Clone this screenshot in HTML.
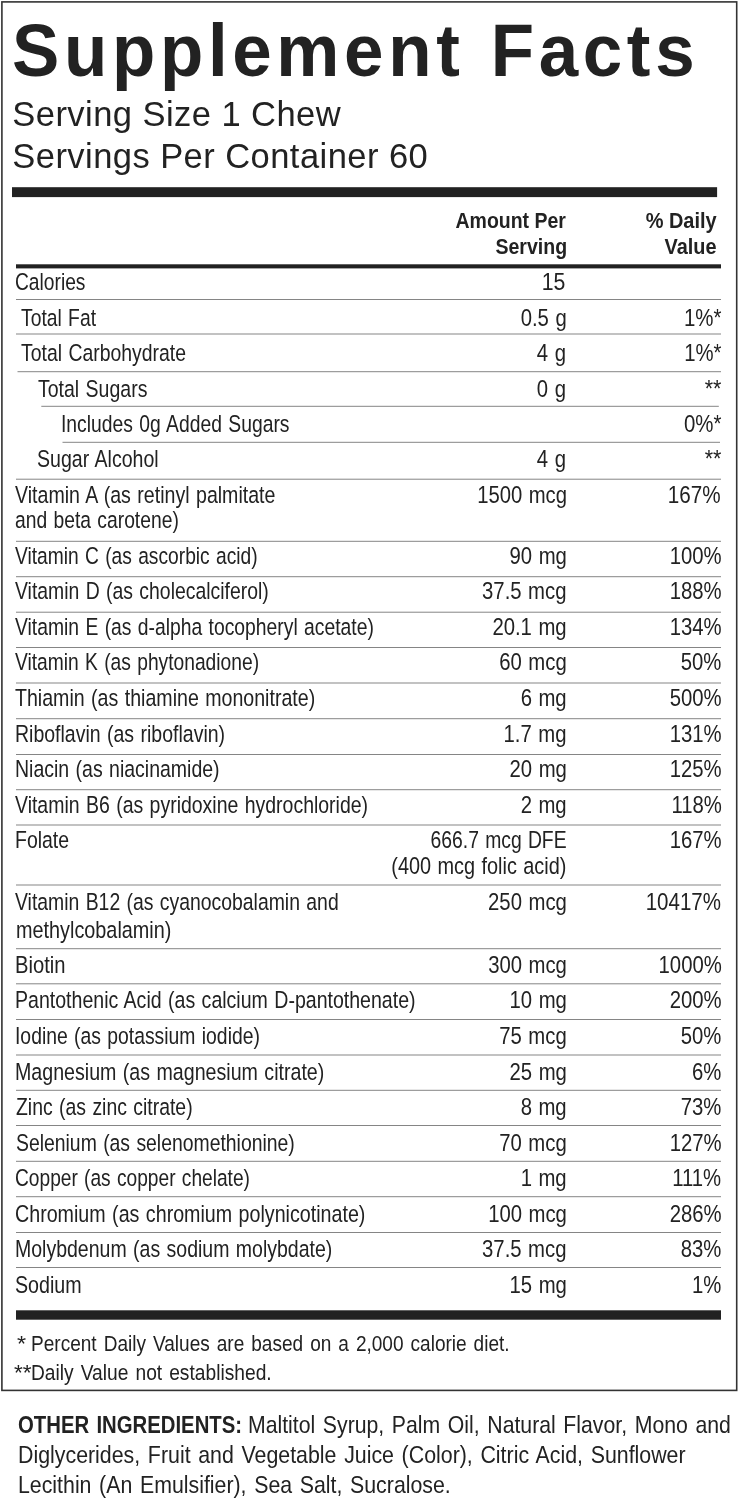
<!DOCTYPE html>
<html><head><meta charset="utf-8"><title>Supplement Facts</title>
<style>
html,body{margin:0;padding:0;background:#fff;}
body{width:739px;height:1500px;position:relative;overflow:hidden;font-family:"Liberation Sans",sans-serif;color:#222;}
.t{position:absolute;white-space:nowrap;margin:0;padding:0;}
svg{position:absolute;left:0;top:0;}
#w{position:absolute;left:0;top:0;width:739px;height:1500px;will-change:transform;}
</style></head><body><div id="w">
<svg width="739" height="1500" viewBox="0 0 739 1500">
<rect x="1.9" y="1.9" width="734.80" height="1388.50" fill="none" stroke="#333" stroke-width="1.6"/>
<rect x="12" y="187.2" width="705.10" height="9.90" fill="#222"/>
<rect x="16" y="264.3" width="705.00" height="4.10" fill="#222"/>
<rect x="16" y="1310.3" width="705.00" height="9.40" fill="#222"/>
<rect x="16" y="299.0" width="705.00" height="1.00" fill="#858585"/>
<rect x="16" y="333.5" width="705.00" height="1.00" fill="#858585"/>
<rect x="17.5" y="371.2" width="703.50" height="1.00" fill="#858585"/>
<rect x="41.3" y="405.8" width="677.50" height="1.00" fill="#858585"/>
<rect x="62.5" y="441.8" width="657.50" height="1.00" fill="#858585"/>
<rect x="16" y="478.7" width="705.00" height="1.00" fill="#858585"/>
<rect x="16" y="540.8" width="705.00" height="1.00" fill="#858585"/>
<rect x="16" y="576.2" width="705.00" height="1.00" fill="#858585"/>
<rect x="16" y="611.7" width="705.00" height="1.00" fill="#858585"/>
<rect x="16" y="647.0" width="705.00" height="1.00" fill="#858585"/>
<rect x="16" y="682.5" width="705.00" height="1.00" fill="#858585"/>
<rect x="16" y="718.2" width="705.00" height="1.00" fill="#858585"/>
<rect x="16" y="754.0" width="705.00" height="1.00" fill="#858585"/>
<rect x="16" y="789.2" width="705.00" height="1.00" fill="#858585"/>
<rect x="16" y="824.5" width="705.00" height="1.00" fill="#858585"/>
<rect x="16" y="884.5" width="705.00" height="1.00" fill="#858585"/>
<rect x="16" y="948.2" width="705.00" height="1.00" fill="#858585"/>
<rect x="16" y="983.3" width="705.00" height="1.00" fill="#858585"/>
<rect x="16" y="1019.0" width="705.00" height="1.00" fill="#858585"/>
<rect x="16" y="1054.5" width="705.00" height="1.00" fill="#858585"/>
<rect x="16" y="1089.8" width="705.00" height="1.00" fill="#858585"/>
<rect x="16" y="1125.0" width="705.00" height="1.00" fill="#858585"/>
<rect x="16" y="1160.8" width="705.00" height="1.00" fill="#858585"/>
<rect x="16" y="1196.2" width="705.00" height="1.00" fill="#858585"/>
<rect x="16" y="1232.0" width="705.00" height="1.00" fill="#858585"/>
<rect x="16" y="1267.0" width="705.00" height="1.00" fill="#858585"/>
</svg>
<div class="t" style="top:14.00px;font-size:73.5px;line-height:73.5px;font-weight:bold;letter-spacing:4.82px;word-spacing:2px;left:11.70px;transform-origin:0 0;transform:scaleX(0.9650);">Supplement Facts</div>
<div class="t" style="top:97.00px;font-size:34.5px;line-height:34.5px;letter-spacing:0.45px;left:12.30px;transform-origin:0 0;">Serving Size 1 Chew</div>
<div class="t" style="top:139.00px;font-size:34.5px;line-height:34.5px;letter-spacing:0.45px;left:12.30px;transform-origin:0 0;">Servings Per Container 60</div>
<div class="t" style="top:210.00px;font-size:22.4px;line-height:22.4px;font-weight:bold;right:172.67px;transform-origin:100% 0;transform:scaleX(0.8701);">Amount Per</div>
<div class="t" style="top:236.00px;font-size:22.4px;line-height:22.4px;font-weight:bold;right:172.23px;transform-origin:100% 0;transform:scaleX(0.8725);">Serving</div>
<div class="t" style="top:210.00px;font-size:22.4px;line-height:22.4px;font-weight:bold;right:22.65px;transform-origin:100% 0;transform:scaleX(0.8914);">% Daily</div>
<div class="t" style="top:236.00px;font-size:22.4px;line-height:22.4px;font-weight:bold;right:22.73px;transform-origin:100% 0;transform:scaleX(0.8878);">Value</div>
<div class="t" style="top:271.00px;font-size:23.7px;line-height:23.7px;word-spacing:1.2px;left:14.84px;transform-origin:0 0;transform:scaleX(0.8106);">Calories</div>
<div class="t" style="top:271.00px;font-size:23.7px;line-height:23.7px;word-spacing:1px;right:173.40px;transform-origin:100% 0;transform:scaleX(0.8985);">15</div>
<div class="t" style="top:307.00px;font-size:23.7px;line-height:23.7px;word-spacing:1.2px;left:21.34px;transform-origin:0 0;transform:scaleX(0.8148);">Total Fat</div>
<div class="t" style="top:307.00px;font-size:23.7px;line-height:23.7px;word-spacing:1px;right:172.43px;transform-origin:100% 0;transform:scaleX(0.8566);">0.5 g</div>
<div class="t" style="top:307.00px;font-size:23.7px;line-height:23.7px;right:17.62px;transform-origin:100% 0;transform:scaleX(0.8635);">1%*</div>
<div class="t" style="top:342.00px;font-size:23.7px;line-height:23.7px;word-spacing:1.2px;left:21.24px;transform-origin:0 0;transform:scaleX(0.8195);">Total Carbohydrate</div>
<div class="t" style="top:342.00px;font-size:23.7px;line-height:23.7px;word-spacing:1px;right:172.60px;transform-origin:100% 0;transform:scaleX(0.8570);">4 g</div>
<div class="t" style="top:342.00px;font-size:23.7px;line-height:23.7px;right:17.50px;transform-origin:100% 0;transform:scaleX(0.8570);">1%*</div>
<div class="t" style="top:378.00px;font-size:23.7px;line-height:23.7px;word-spacing:1.2px;left:38.17px;transform-origin:0 0;transform:scaleX(0.8235);">Total Sugars</div>
<div class="t" style="top:378.00px;font-size:23.7px;line-height:23.7px;word-spacing:1px;right:172.60px;transform-origin:100% 0;transform:scaleX(0.8570);">0 g</div>
<div class="t" style="top:378.00px;font-size:23.7px;line-height:23.7px;right:17.30px;transform-origin:100% 0;transform:scaleX(0.9051);">**</div>
<div class="t" style="top:413.00px;font-size:23.7px;line-height:23.7px;word-spacing:1.2px;left:60.63px;transform-origin:0 0;transform:scaleX(0.8155);">Includes 0g Added Sugars</div>
<div class="t" style="top:413.00px;font-size:23.7px;line-height:23.7px;right:17.21px;transform-origin:100% 0;transform:scaleX(0.8614);">0%*</div>
<div class="t" style="top:448.00px;font-size:23.7px;line-height:23.7px;word-spacing:1.2px;left:37.21px;transform-origin:0 0;transform:scaleX(0.8255);">Sugar Alcohol</div>
<div class="t" style="top:448.00px;font-size:23.7px;line-height:23.7px;word-spacing:1px;right:172.60px;transform-origin:100% 0;transform:scaleX(0.8570);">4 g</div>
<div class="t" style="top:448.00px;font-size:23.7px;line-height:23.7px;right:17.30px;transform-origin:100% 0;transform:scaleX(0.9051);">**</div>
<div class="t" style="top:484.00px;font-size:23.7px;line-height:23.7px;word-spacing:1.2px;left:15.06px;transform-origin:0 0;transform:scaleX(0.8266);">Vitamin A (as retinyl palmitate</div>
<div class="t" style="top:484.00px;font-size:23.7px;line-height:23.7px;word-spacing:1px;right:171.93px;transform-origin:100% 0;transform:scaleX(0.8558);">1500 mcg</div>
<div class="t" style="top:484.00px;font-size:23.7px;line-height:23.7px;right:18.27px;transform-origin:100% 0;transform:scaleX(0.8725);">167%</div>
<div class="t" style="top:509.00px;font-size:23.7px;line-height:23.7px;word-spacing:1.2px;left:15.40px;transform-origin:0 0;transform:scaleX(0.8139);">and beta carotene)</div>
<div class="t" style="top:545.00px;font-size:23.7px;line-height:23.7px;word-spacing:1.2px;left:15.12px;transform-origin:0 0;transform:scaleX(0.8108);">Vitamin C (as ascorbic acid)</div>
<div class="t" style="top:545.00px;font-size:23.7px;line-height:23.7px;word-spacing:1px;right:172.60px;transform-origin:100% 0;transform:scaleX(0.8570);">90 mg</div>
<div class="t" style="top:545.00px;font-size:23.7px;line-height:23.7px;right:17.50px;transform-origin:100% 0;transform:scaleX(0.8570);">100%</div>
<div class="t" style="top:580.00px;font-size:23.7px;line-height:23.7px;word-spacing:1.2px;left:15.12px;transform-origin:0 0;transform:scaleX(0.8187);">Vitamin D (as cholecalciferol)</div>
<div class="t" style="top:580.00px;font-size:23.7px;line-height:23.7px;word-spacing:1px;right:172.60px;transform-origin:100% 0;transform:scaleX(0.8570);">37.5 mcg</div>
<div class="t" style="top:580.00px;font-size:23.7px;line-height:23.7px;right:17.50px;transform-origin:100% 0;transform:scaleX(0.8570);">188%</div>
<div class="t" style="top:616.00px;font-size:23.7px;line-height:23.7px;word-spacing:1.2px;left:15.12px;transform-origin:0 0;transform:scaleX(0.8155);">Vitamin E (as d-alpha tocopheryl acetate)</div>
<div class="t" style="top:616.00px;font-size:23.7px;line-height:23.7px;word-spacing:1px;right:172.60px;transform-origin:100% 0;transform:scaleX(0.8570);">20.1 mg</div>
<div class="t" style="top:616.00px;font-size:23.7px;line-height:23.7px;right:17.50px;transform-origin:100% 0;transform:scaleX(0.8570);">134%</div>
<div class="t" style="top:651.00px;font-size:23.7px;line-height:23.7px;word-spacing:1.2px;left:15.12px;transform-origin:0 0;transform:scaleX(0.8115);">Vitamin K (as phytonadione)</div>
<div class="t" style="top:651.00px;font-size:23.7px;line-height:23.7px;word-spacing:1px;right:172.60px;transform-origin:100% 0;transform:scaleX(0.8570);">60 mcg</div>
<div class="t" style="top:651.00px;font-size:23.7px;line-height:23.7px;right:17.50px;transform-origin:100% 0;transform:scaleX(0.8570);">50%</div>
<div class="t" style="top:687.00px;font-size:23.7px;line-height:23.7px;word-spacing:1.2px;left:15.44px;transform-origin:0 0;transform:scaleX(0.8269);">Thiamin (as thiamine mononitrate)</div>
<div class="t" style="top:687.00px;font-size:23.7px;line-height:23.7px;word-spacing:1px;right:172.60px;transform-origin:100% 0;transform:scaleX(0.8570);">6 mg</div>
<div class="t" style="top:687.00px;font-size:23.7px;line-height:23.7px;right:17.50px;transform-origin:100% 0;transform:scaleX(0.8570);">500%</div>
<div class="t" style="top:723.00px;font-size:23.7px;line-height:23.7px;word-spacing:1.2px;left:15.01px;transform-origin:0 0;transform:scaleX(0.8232);">Riboflavin (as riboflavin)</div>
<div class="t" style="top:723.00px;font-size:23.7px;line-height:23.7px;word-spacing:1px;right:172.60px;transform-origin:100% 0;transform:scaleX(0.8570);">1.7 mg</div>
<div class="t" style="top:723.00px;font-size:23.7px;line-height:23.7px;right:17.50px;transform-origin:100% 0;transform:scaleX(0.8570);">131%</div>
<div class="t" style="top:758.00px;font-size:23.7px;line-height:23.7px;word-spacing:1.2px;left:15.01px;transform-origin:0 0;transform:scaleX(0.8231);">Niacin (as niacinamide)</div>
<div class="t" style="top:758.00px;font-size:23.7px;line-height:23.7px;word-spacing:1px;right:172.60px;transform-origin:100% 0;transform:scaleX(0.8570);">20 mg</div>
<div class="t" style="top:758.00px;font-size:23.7px;line-height:23.7px;right:17.50px;transform-origin:100% 0;transform:scaleX(0.8570);">125%</div>
<div class="t" style="top:794.00px;font-size:23.7px;line-height:23.7px;word-spacing:1.2px;left:15.08px;transform-origin:0 0;transform:scaleX(0.8218);">Vitamin B6 (as pyridoxine hydrochloride)</div>
<div class="t" style="top:794.00px;font-size:23.7px;line-height:23.7px;word-spacing:1px;right:172.60px;transform-origin:100% 0;transform:scaleX(0.8570);">2 mg</div>
<div class="t" style="top:794.00px;font-size:23.7px;line-height:23.7px;right:17.50px;transform-origin:100% 0;transform:scaleX(0.8570);">118%</div>
<div class="t" style="top:829.00px;font-size:23.7px;line-height:23.7px;word-spacing:1.2px;left:15.07px;transform-origin:0 0;transform:scaleX(0.8217);">Folate</div>
<div class="t" style="top:829.00px;font-size:23.7px;line-height:23.7px;word-spacing:1px;right:172.87px;transform-origin:100% 0;transform:scaleX(0.8164);">666.7 mcg DFE</div>
<div class="t" style="top:829.00px;font-size:23.7px;line-height:23.7px;right:17.50px;transform-origin:100% 0;transform:scaleX(0.8570);">167%</div>
<div class="t" style="top:855.00px;font-size:23.7px;line-height:23.7px;word-spacing:1px;right:172.48px;transform-origin:100% 0;transform:scaleX(0.8401);">(400 mcg folic acid)</div>
<div class="t" style="top:891.00px;font-size:23.7px;line-height:23.7px;word-spacing:1.2px;left:15.12px;transform-origin:0 0;transform:scaleX(0.8185);">Vitamin B12 (as cyanocobalamin and</div>
<div class="t" style="top:891.00px;font-size:23.7px;line-height:23.7px;word-spacing:1px;right:171.91px;transform-origin:100% 0;transform:scaleX(0.8582);">250 mcg</div>
<div class="t" style="top:891.00px;font-size:23.7px;line-height:23.7px;right:18.00px;transform-origin:100% 0;transform:scaleX(0.8657);">10417%</div>
<div class="t" style="top:919.00px;font-size:23.7px;line-height:23.7px;word-spacing:1.2px;left:15.65px;transform-origin:0 0;transform:scaleX(0.8370);">methylcobalamin)</div>
<div class="t" style="top:954.00px;font-size:23.7px;line-height:23.7px;word-spacing:1.2px;left:15.28px;transform-origin:0 0;transform:scaleX(0.8525);">Biotin</div>
<div class="t" style="top:954.00px;font-size:23.7px;line-height:23.7px;word-spacing:1px;right:172.60px;transform-origin:100% 0;transform:scaleX(0.8570);">300 mcg</div>
<div class="t" style="top:954.00px;font-size:23.7px;line-height:23.7px;right:17.50px;transform-origin:100% 0;transform:scaleX(0.8570);">1000%</div>
<div class="t" style="top:989.00px;font-size:23.7px;line-height:23.7px;word-spacing:1.2px;left:15.00px;transform-origin:0 0;transform:scaleX(0.8252);">Pantothenic Acid (as calcium D-pantothenate)</div>
<div class="t" style="top:989.00px;font-size:23.7px;line-height:23.7px;word-spacing:1px;right:172.60px;transform-origin:100% 0;transform:scaleX(0.8570);">10 mg</div>
<div class="t" style="top:989.00px;font-size:23.7px;line-height:23.7px;right:17.50px;transform-origin:100% 0;transform:scaleX(0.8570);">200%</div>
<div class="t" style="top:1025.00px;font-size:23.7px;line-height:23.7px;word-spacing:1.2px;left:14.56px;transform-origin:0 0;transform:scaleX(0.8167);">Iodine (as potassium iodide)</div>
<div class="t" style="top:1025.00px;font-size:23.7px;line-height:23.7px;word-spacing:1px;right:172.60px;transform-origin:100% 0;transform:scaleX(0.8570);">75 mcg</div>
<div class="t" style="top:1025.00px;font-size:23.7px;line-height:23.7px;right:17.50px;transform-origin:100% 0;transform:scaleX(0.8570);">50%</div>
<div class="t" style="top:1061.00px;font-size:23.7px;line-height:23.7px;word-spacing:1.2px;left:15.00px;transform-origin:0 0;transform:scaleX(0.8281);">Magnesium (as magnesium citrate)</div>
<div class="t" style="top:1061.00px;font-size:23.7px;line-height:23.7px;word-spacing:1px;right:172.60px;transform-origin:100% 0;transform:scaleX(0.8570);">25 mg</div>
<div class="t" style="top:1061.00px;font-size:23.7px;line-height:23.7px;right:17.50px;transform-origin:100% 0;transform:scaleX(0.8570);">6%</div>
<div class="t" style="top:1096.00px;font-size:23.7px;line-height:23.7px;word-spacing:1.2px;left:15.58px;transform-origin:0 0;transform:scaleX(0.8196);">Zinc (as zinc citrate)</div>
<div class="t" style="top:1096.00px;font-size:23.7px;line-height:23.7px;word-spacing:1px;right:172.60px;transform-origin:100% 0;transform:scaleX(0.8570);">8 mg</div>
<div class="t" style="top:1096.00px;font-size:23.7px;line-height:23.7px;right:17.50px;transform-origin:100% 0;transform:scaleX(0.8570);">73%</div>
<div class="t" style="top:1132.00px;font-size:23.7px;line-height:23.7px;word-spacing:1.2px;left:15.54px;transform-origin:0 0;transform:scaleX(0.8179);">Selenium (as selenomethionine)</div>
<div class="t" style="top:1132.00px;font-size:23.7px;line-height:23.7px;word-spacing:1px;right:172.60px;transform-origin:100% 0;transform:scaleX(0.8570);">70 mcg</div>
<div class="t" style="top:1132.00px;font-size:23.7px;line-height:23.7px;right:17.50px;transform-origin:100% 0;transform:scaleX(0.8570);">127%</div>
<div class="t" style="top:1167.00px;font-size:23.7px;line-height:23.7px;word-spacing:1.2px;left:15.00px;transform-origin:0 0;transform:scaleX(0.8084);">Copper (as copper chelate)</div>
<div class="t" style="top:1167.00px;font-size:23.7px;line-height:23.7px;word-spacing:1px;right:172.60px;transform-origin:100% 0;transform:scaleX(0.8570);">1 mg</div>
<div class="t" style="top:1167.00px;font-size:23.7px;line-height:23.7px;right:17.50px;transform-origin:100% 0;transform:scaleX(0.8570);">111%</div>
<div class="t" style="top:1203.00px;font-size:23.7px;line-height:23.7px;word-spacing:1.2px;left:14.84px;transform-origin:0 0;transform:scaleX(0.8298);">Chromium (as chromium polynicotinate)</div>
<div class="t" style="top:1203.00px;font-size:23.7px;line-height:23.7px;word-spacing:1px;right:172.60px;transform-origin:100% 0;transform:scaleX(0.8570);">100 mcg</div>
<div class="t" style="top:1203.00px;font-size:23.7px;line-height:23.7px;right:17.50px;transform-origin:100% 0;transform:scaleX(0.8570);">286%</div>
<div class="t" style="top:1238.00px;font-size:23.7px;line-height:23.7px;word-spacing:1.2px;left:15.01px;transform-origin:0 0;transform:scaleX(0.8232);">Molybdenum (as sodium molybdate)</div>
<div class="t" style="top:1238.00px;font-size:23.7px;line-height:23.7px;word-spacing:1px;right:172.60px;transform-origin:100% 0;transform:scaleX(0.8570);">37.5 mcg</div>
<div class="t" style="top:1238.00px;font-size:23.7px;line-height:23.7px;right:17.50px;transform-origin:100% 0;transform:scaleX(0.8570);">83%</div>
<div class="t" style="top:1274.00px;font-size:23.7px;line-height:23.7px;word-spacing:1.2px;left:15.30px;transform-origin:0 0;transform:scaleX(0.8304);">Sodium</div>
<div class="t" style="top:1274.00px;font-size:23.7px;line-height:23.7px;word-spacing:1px;right:172.60px;transform-origin:100% 0;transform:scaleX(0.8570);">15 mg</div>
<div class="t" style="top:1274.00px;font-size:23.7px;line-height:23.7px;right:17.50px;transform-origin:100% 0;transform:scaleX(0.8570);">1%</div>
<div class="t" style="top:1333.00px;font-size:22.6px;line-height:22.6px;left:16.70px;transform-origin:0 0;transform:scaleX(1.0336);">*</div>
<div class="t" style="top:1333.00px;font-size:22.6px;line-height:22.6px;word-spacing:2px;left:30.94px;transform-origin:0 0;transform:scaleX(0.8431);">Percent Daily Values are based on a 2,000 calorie diet.</div>
<div class="t" style="top:1362.00px;font-size:22.6px;line-height:22.6px;left:14.00px;transform-origin:0 0;">**</div>
<div class="t" style="top:1362.00px;font-size:22.6px;line-height:22.6px;word-spacing:2px;left:30.60px;transform-origin:0 0;transform:scaleX(0.8500);">Daily Value not established.</div>
<div class="t" style="top:1413.00px;font-size:24.8px;line-height:24.8px;font-weight:bold;word-spacing:2px;left:17.96px;transform-origin:0 0;transform:scaleX(0.8196);">OTHER INGREDIENTS:</div>
<div class="t" style="top:1413.00px;font-size:24.8px;line-height:24.8px;word-spacing:2px;left:247.57px;transform-origin:0 0;transform:scaleX(0.8563);">Maltitol Syrup, Palm Oil, Natural Flavor, Mono and</div>
<div class="t" style="top:1443.00px;font-size:24.8px;line-height:24.8px;word-spacing:2px;left:17.93px;transform-origin:0 0;transform:scaleX(0.8610);">Diglycerides, Fruit and Vegetable Juice (Color), Citric Acid, Sunflower</div>
<div class="t" style="top:1473.00px;font-size:24.8px;line-height:24.8px;word-spacing:2px;left:17.93px;transform-origin:0 0;transform:scaleX(0.8597);">Lecithin (An Emulsifier), Sea Salt, Sucralose.</div>
</div></body></html>
